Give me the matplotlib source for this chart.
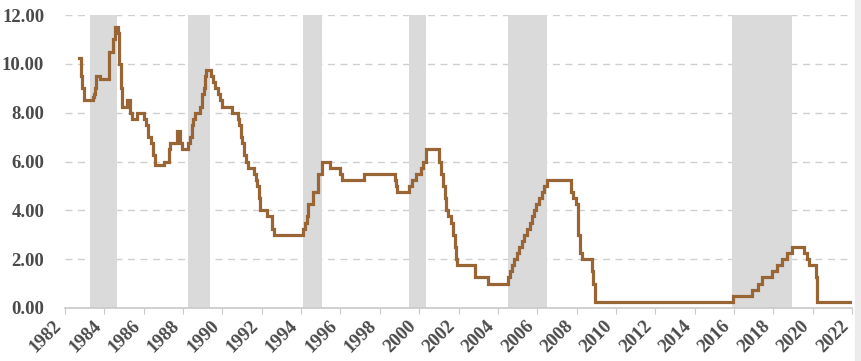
import matplotlib
matplotlib.use("Agg")
import matplotlib.pyplot as plt
from matplotlib.patches import Rectangle

# Fed funds target rate (decimal year of change, new rate)
change_dates = [
    1982.73, 1982.80, 1982.88, 1982.95, 1983.40, 1983.48, 1983.53, 1983.58, 1983.80,
    1984.25, 1984.45, 1984.52, 1984.70, 1984.76, 1984.84, 1984.92, 1985.15, 1985.30,
    1985.38, 1985.65, 1986.00, 1986.12, 1986.22, 1986.35, 1986.45, 1986.58, 1987.02,
    1987.28, 1987.34, 1987.68, 1987.85, 1987.95, 1988.25, 1988.35, 1988.45, 1988.52,
    1988.60, 1988.86, 1988.98, 1989.05, 1989.12, 1989.18, 1989.42, 1989.50, 1989.60,
    1989.80, 1989.88, 1989.97, 1990.48, 1990.78, 1990.85, 1990.92, 1990.96, 1991.02,
    1991.08, 1991.18, 1991.30, 1991.60, 1991.70, 1991.78, 1991.85, 1991.88, 1991.93,
    1992.27, 1992.50, 1992.63, 1994.09, 1994.22, 1994.30, 1994.37, 1994.62, 1994.88,
    1995.06, 1995.48, 1995.97, 1996.08, 1997.20, 1998.78, 1998.84, 1998.89, 1999.50,
    1999.62, 1999.86, 2000.09, 2000.22, 2000.33, 2001.03, 2001.10, 2001.22, 2001.30,
    2001.38, 2001.48, 2001.63, 2001.71, 2001.80, 2001.86, 2001.93, 2002.82, 2003.49,
    2004.50, 2004.61, 2004.72, 2004.83, 2004.95, 2005.09, 2005.22, 2005.35, 2005.50,
    2005.61, 2005.72, 2005.84, 2005.95, 2006.08, 2006.24, 2006.36, 2006.49, 2007.70,
    2007.80, 2007.95, 2008.06, 2008.09, 2008.20, 2008.30, 2008.77, 2008.83, 2008.95,
    2015.93, 2016.93, 2017.20, 2017.45, 2017.95, 2018.21, 2018.46, 2018.71, 2018.96,
    2019.56, 2019.70, 2019.83, 2020.15, 2020.20, 2022.08,
]
rates = [
    10.25, 9.5, 9.0, 8.5, 8.625, 8.75, 9.0, 9.5, 9.375,
    10.5, 11.0, 11.5, 11.25, 10.0, 9.0, 8.25, 8.5, 8.0,
    7.75, 8.0, 7.75, 7.5, 7.0, 6.75, 6.25, 5.875, 6.0,
    6.5, 6.75, 7.25, 6.75, 6.5, 6.75, 7.0, 7.5, 7.75,
    8.0, 8.25, 8.75, 9.0, 9.5, 9.75, 9.5, 9.25, 9.0,
    8.75, 8.5, 8.25, 8.0, 7.75, 7.5, 7.25, 7.0, 6.75,
    6.25, 6.0, 5.75, 5.5, 5.25, 5.0, 4.75, 4.5, 4.0,
    3.75, 3.25, 3.0, 3.25, 3.5, 3.75, 4.25, 4.75, 5.5,
    6.0, 5.75, 5.5, 5.25, 5.5, 5.25, 5.0, 4.75, 5.0,
    5.25, 5.5, 5.75, 6.0, 6.5, 6.0, 5.5, 5.0, 4.5,
    4.0, 3.75, 3.5, 3.0, 2.5, 2.0, 1.75, 1.25, 1.0,
    1.25, 1.5, 1.75, 2.0, 2.25, 2.5, 2.75, 3.0, 3.25,
    3.5, 3.75, 4.0, 4.25, 4.5, 4.75, 5.0, 5.25, 4.75,
    4.5, 4.25, 3.5, 3.0, 2.25, 2.0, 1.5, 1.0, 0.25,
    0.5, 0.75, 1.0, 1.25, 1.5, 1.75, 2.0, 2.25, 2.5,
    2.25, 2.0, 1.75, 1.25, 0.25, 0.25,
]

# Shaded tightening periods (start, end)
band_starts = [1983.27, 1988.27, 1994.08, 1999.47, 2004.50, 2015.90]
band_ends = [1984.63, 1989.37, 1995.08, 2000.35, 2006.49, 2018.94]

xtick_years = list(range(1982, 2023, 2))
ytick_vals = [0, 2, 4, 6, 8, 10, 12]

line_color = "#9A6535"
band_color = "#dadada"
grid_color = "#cfcfcf"
text_color = "#4a4a4a"

fig = plt.figure(figsize=(8.61, 3.61), dpi=100)
fig.patch.set_facecolor("white")
ax = fig.add_axes([65 / 861, (361 - 308) / 361, (852 - 65) / 861, (308 - 15) / 361])

for v in ytick_vals[1:]:
    ax.axhline(v, color=grid_color, lw=1.0, ls=(0, (5, 4)), zorder=1)

for s, e in zip(band_starts, band_ends):
    ax.axvspan(s, e, color=band_color, lw=0, zorder=2)

ax.plot(change_dates, rates, drawstyle="steps-post", color=line_color, lw=2.3, zorder=3,
        solid_joinstyle="miter")

ax.set_xlim(1982, 2022)
ax.set_ylim(0, 12)

ax.set_yticks(ytick_vals)
ax.set_yticklabels([f"{v:.2f}" for v in ytick_vals], color=text_color,
                   family="Liberation Serif", weight="bold", size=13.5)
ax.set_xticks(xtick_years)
ax.set_xticklabels([str(y) for y in xtick_years], rotation=45, ha="right", va="top",
                   color=text_color, family="Liberation Serif", weight="bold", size=13.5)

ax.tick_params(axis="y", length=0, pad=15)
ax.tick_params(axis="x", length=4, color="#c8c8c8", pad=3)
for side in ["left", "right", "top"]:
    ax.spines[side].set_visible(False)
ax.spines["bottom"].set_color("#c8c8c8")
ax.spines["bottom"].set_linewidth(1.2)

# faint shadow at right edge
fig.patches.append(Rectangle((855 / 861, 0), 6 / 861, 1, transform=fig.transFigure,
                             color="#ececec", zorder=0))

fig.savefig("out.png", dpi=100)
